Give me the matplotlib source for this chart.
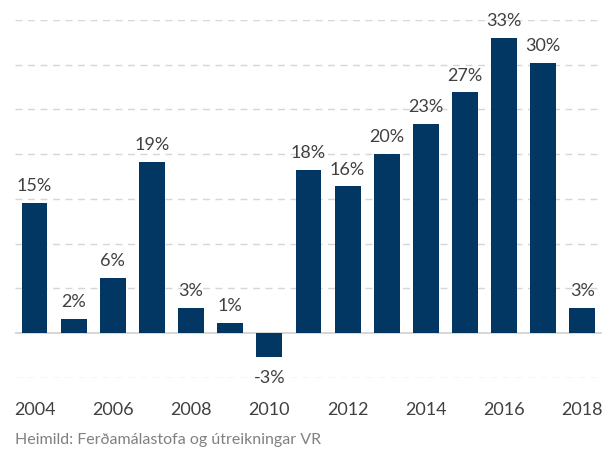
import numpy as np
from matplotlib import pyplot as plt

plt.rcParams['font.family'] = ['Lato', 'DejaVu Sans']

# Árleg breyting (%)
years = [2004, 2005, 2006, 2007, 2008, 2009, 2010, 2011, 2012, 2013, 2014, 2015, 2016, 2017, 2018]
values = [14.6, 1.6, 6.2, 19.1, 2.8, 1.1, -2.7, 18.2, 16.4, 20.0, 23.4, 26.9, 33.0, 30.2, 2.8]
tick_years = [2004, 2006, 2008, 2010, 2012, 2014, 2016, 2018]
source = 'Heimild: Ferðamálastofa og útreikningar VR'

bar_color = '#023764'
text_color = '#404040'

fig = plt.figure(figsize=(6.11, 4.51), dpi=100)
ax = fig.add_axes([0.0245, 0.1619, 0.9607, 0.7938])

# gridlines
for g in range(-5, 40, 5):
    if g == 0:
        ax.axhline(0, color='#d0d0d0', lw=1.2, zorder=1)
    else:
        ax.axhline(g, color='#d6d6d6', lw=1, ls=(0, (5, 4)), zorder=0)

ax.bar(years, values, width=0.66, color=bar_color, zorder=2)

for x, v in zip(years, values):
    lab = f'{round(v):d}%'
    if v >= 0:
        ax.text(x, v + 1.0, lab, ha='center', va='bottom', fontsize=13, color=text_color)
    else:
        ax.text(x, v - 1.4, lab, ha='center', va='top', fontsize=13, color=text_color)

ax.set_xlim(2003.5, 2018.5)
ax.set_ylim(-5, 35)
ax.set_xticks(tick_years)
ax.set_xticklabels([str(y) for y in tick_years], fontsize=13, color=text_color)
ax.tick_params(axis='x', length=0, pad=17)
ax.set_yticks([])
for s in ax.spines.values():
    s.set_visible(False)

fig.text(15 / 611, 1 - 440 / 451, source, fontsize=11.5, color='#808080', va='center', ha='left')

fig.savefig('out.png', dpi=100)
